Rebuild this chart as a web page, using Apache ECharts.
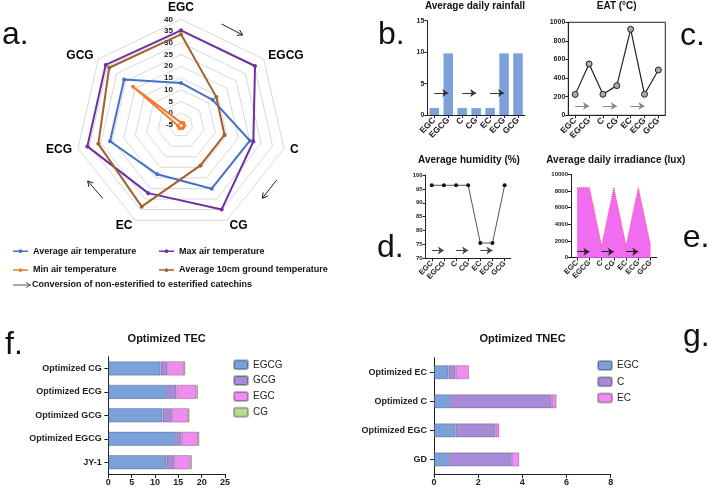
<!DOCTYPE html>
<html><head><meta charset="utf-8">
<script src="https://cdn.jsdelivr.net/npm/echarts@6/dist/echarts.min.js"></script>
<style>html,body{margin:0;padding:0;background:#fff}#c{width:708px;height:491px}</style>
</head><body><div id="c"></div>
<script>
// ---------- data ----------
const radarAxes = ['EGC', 'EGCG', 'C', 'CG', 'EC', 'ECG', 'GCG']; // clockwise from top
const avgAirTemp = [12.9, 12.2, 25.1, 25.1, 18.3, 26.0, 26.0];
const maxAirTemp = [35.3, 35.3, 26.6, 34.9, 27.2, 35.9, 36.0];
const minAirTemp = [-4.0, -3.7, -3.5, -3.5, -3.5, -3.7, 21.1];
const groundTemp = [33.6, 14.2, 14.0, 14.1, 33.6, 31.1, 34.1];
const radarNames = ['Average air temperature', 'Max air temperature', 'Min air temperature', 'Average 10cm ground temperature'];

const stageCats = ['EGC', 'EGCG', 'C', 'CG', 'EC', 'ECG', 'GCG'];
const rainfall = [1.1, 9.8, 1.1, 1.1, 1.1, 9.8, 9.8];
const eat = [225, 552, 226, 319, 925, 226, 487];
const humidity = [96.3, 96.3, 96.3, 96.3, 75.5, 75.5, 96.3];
const irradiance = [8400, 8400, 1400, 8400, 1400, 8400, 1400];

const tecCats = ['Optimized CG', 'Optimized ECG', 'Optimized GCG', 'Optimized EGCG', 'JY-1'];
const tecEGCG = [11.2, 12.6, 11.6, 14.5, 12.5];
const tecGCG = [1.4, 2.0, 2.0, 1.2, 1.6];
const tecEGC = [3.6, 4.3, 3.5, 3.5, 3.5];
const tecCG = [0.3, 0.3, 0.3, 0.3, 0.3];

const tnecCats = ['Optimized EC', 'Optimized C', 'Optimized EGC', 'GD'];
const tnecEGC = [0.65, 0.72, 0.98, 0.69];
const tnecC = [0.33, 4.61, 1.81, 2.83];
const tnecEC = [0.6, 0.22, 0.17, 0.34];

// ---------- styles ----------
const FF = 'Liberation Sans, Arial, sans-serif';
const BLUE = '#4472C4', PURPLE = '#7030A0', ORANGE = '#ED7D31', BROWN = '#A0602F';
const barBlue = '#7BA0DA', barPurple = '#A88BD8', barPink = '#F08CF0', barGreen = '#B8DC8C';

// radar is counter-clockwise in ECharts; reorder to get clockwise
const order = [0, 6, 5, 4, 3, 2, 1];
const ro = arr => order.map(i => arr[i]);

const chart = echarts.init(document.getElementById('c'), null, {renderer: 'canvas'});

function arrow(x1, y1, x2, y2, color, head) {
  const dx = x2 - x1, dy = y2 - y1, L = Math.hypot(dx, dy), ux = dx / L, uy = dy / L;
  const h = head || 6, a = Math.PI / 6;
  const p1 = [x2 - h * (ux * Math.cos(a) - uy * Math.sin(a)), y2 - h * (uy * Math.cos(a) + ux * Math.sin(a))];
  const p2 = [x2 - h * (ux * Math.cos(a) + uy * Math.sin(a)), y2 - h * (uy * Math.cos(a) - ux * Math.sin(a))];
  return [
    {type: 'line', shape: {x1, y1, x2, y2}, style: {stroke: color, lineWidth: 1}, silent: true},
    {type: 'polyline', shape: {points: [p1, [x2, y2], p2]}, style: {stroke: color, lineWidth: 1, fill: null}, silent: true}
  ];
}
function txt(x, y, text, size, weight, align) {
  return {type: 'text', x, y, silent: true,
    style: {text, fontSize: size, fontWeight: weight || 'normal', fontFamily: FF, fill: '#111',
      textAlign: align || 'left', textVerticalAlign: 'middle'}};
}

const plain = v => String(v);
const axisLineBlack = {show: true, lineStyle: {color: '#222', width: 1}};
const tickBlack = {show: true, length: 3, lineStyle: {color: '#222'}};
const smallLbl = (fs, m) => ({color: '#222', fontSize: fs, fontWeight: 'bold', fontFamily: FF, margin: m || 3, formatter: plain});
const catLbl = (fs, m) => ({color: '#222', fontSize: fs, fontWeight: 'bold', fontFamily: FF, margin: m || 3});
const rotLbl = (fs) => ({color: '#222', fontSize: fs, fontWeight: 'bold', fontFamily: FF, rotate: 45, interval: 0, margin: 4});

function arrowMarks(yv, color) {
  return {
    silent: true, symbol: ['none', 'arrow'], symbolSize: 6,
    label: {show: false}, emphasis: {disabled: true},
    lineStyle: {color, type: 'solid', width: 1},
    data: [
      [{coord: [0, yv]}, {coord: [1, yv]}],
      [{coord: [2, yv]}, {coord: [3, yv]}],
      [{coord: [4, yv]}, {coord: [5, yv]}]
    ]
  };
}

const legendIcon = 'path://M0,4 L20,4 L20,6 L0,6 Z M12.5,5 A2.5,2.5 0 1 1 7.5,5 A2.5,2.5 0 1 1 12.5,5 Z';
const radarColors = [BLUE, PURPLE, ORANGE, BROWN];
const radarVals = [avgAirTemp, maxAirTemp, minAirTemp, groundTemp];
const legendPos = [[8, 241.7], [154, 241.7], [8, 260.5], [154, 260.5]];

const option = {
  animation: false,
  backgroundColor: '#fff',
  textStyle: {fontFamily: FF},
  radar: {
    center: [181, 125], radius: 105.7, startAngle: 90, shape: 'polygon', splitNumber: 9,
    indicator: order.map((i, k) => ({
      name: radarAxes[i], min: -5, max: 40,
      axisLabel: k === 0 ? {show: true, color: '#222', fontSize: 8, fontWeight: 'bold', fontFamily: FF, margin: 0, align: 'right', padding: [0, 8, 0, 0], showMinLabel: true, showMaxLabel: true} : {show: false}
    })),
    axisName: {color: '#000', fontWeight: 'bold', fontSize: 12, fontFamily: FF},
    nameGap: 6,
    splitLine: {lineStyle: {color: '#d9d9d9', width: 1}},
    splitArea: {show: false},
    axisLine: {show: false},
    axisTick: {show: false},
    axisLabel: {show: false}
  },
  legend: radarNames.map((n, i) => ({
    data: [n], left: legendPos[i][0], top: legendPos[i][1], orient: 'horizontal',
    icon: legendIcon, itemWidth: 15, itemHeight: 5, selectedMode: false,
    textStyle: {fontSize: 9, fontWeight: 'bold', fontFamily: FF, color: '#111'}
  })).concat([
    {data: ['TEC EGCG', 'TEC GCG', 'TEC EGC', 'TEC CG'], orient: 'vertical', left: 228, top: 354.3,
      itemWidth: 14, itemHeight: 9, itemGap: 4.8, selectedMode: false, formatter: n => n.replace('TEC ', ''),
      textStyle: {fontSize: 10, fontFamily: FF, color: '#222'}},
    {data: ['TNEC EGC', 'TNEC C', 'TNEC EC'], orient: 'vertical', left: 592, top: 355,
      itemWidth: 14, itemHeight: 9, itemGap: 5.3, selectedMode: false, formatter: n => n.replace('TNEC ', ''),
      textStyle: {fontSize: 10, fontFamily: FF, color: '#222'}}
  ]),
  grid: [
    {left: 427.3, top: 20.7, width: 97.7, height: 94.3},              // b
    {left: 568.3, top: 22.3, width: 97, height: 93, show: true, borderColor: '#222', borderWidth: 1, backgroundColor: 'transparent'}, // c
    {left: 425.7, top: 175, width: 85, height: 83.3},                 // d
    {left: 571, top: 174.3, width: 85.7, height: 83.4},               // e
    {left: 108.3, top: 356.7, width: 116.7, height: 117.3},           // f
    {left: 434, top: 357.7, width: 176.7, height: 116.3}              // g
  ],
  xAxis: [
    {gridIndex: 0, type: 'category', data: stageCats, axisLine: axisLineBlack, axisTick: Object.assign({alignWithLabel: true}, tickBlack), axisLabel: rotLbl(8.5)},
    {gridIndex: 1, type: 'category', data: stageCats, axisLine: axisLineBlack, axisTick: Object.assign({alignWithLabel: true}, tickBlack), axisLabel: rotLbl(8.5)},
    {gridIndex: 2, type: 'category', data: stageCats, axisLine: axisLineBlack, axisTick: Object.assign({alignWithLabel: true}, tickBlack), axisLabel: rotLbl(7.5)},
    {gridIndex: 3, type: 'category', data: stageCats, axisLine: axisLineBlack, axisTick: Object.assign({alignWithLabel: true}, tickBlack), axisLabel: rotLbl(7.5)},
    {gridIndex: 4, type: 'value', min: 0, max: 25, interval: 5, splitLine: {show: false}, axisLine: axisLineBlack, axisTick: {show: true, length: 4, lineStyle: {color: '#222'}}, axisLabel: smallLbl(9, 4)},
    {gridIndex: 5, type: 'value', min: 0, max: 8, interval: 2, splitLine: {show: false}, axisLine: axisLineBlack, axisTick: {show: true, length: 4, lineStyle: {color: '#222'}}, axisLabel: smallLbl(9, 4)}
  ],
  yAxis: [
    {gridIndex: 0, type: 'value', min: 0, max: 15, interval: 5, splitLine: {show: false}, axisLine: axisLineBlack, axisTick: tickBlack, axisLabel: smallLbl(7)},
    {gridIndex: 1, type: 'value', min: 0, max: 1000, interval: 200, splitLine: {show: false}, axisLine: axisLineBlack, axisTick: tickBlack, axisLabel: smallLbl(7)},
    {gridIndex: 2, type: 'value', min: 70, max: 100, interval: 5, splitLine: {show: false}, axisLine: axisLineBlack, axisTick: tickBlack, axisLabel: smallLbl(6)},
    {gridIndex: 3, type: 'value', min: 0, max: 10000, interval: 2000, splitLine: {show: false}, axisLine: axisLineBlack, axisTick: tickBlack, axisLabel: smallLbl(6)},
    {gridIndex: 4, type: 'category', data: tecCats, inverse: true, axisLine: axisLineBlack, axisTick: {show: true, length: 4, alignWithLabel: true, lineStyle: {color: '#222'}}, axisLabel: catLbl(9, 6.5)},
    {gridIndex: 5, type: 'category', data: tnecCats, inverse: true, axisLine: axisLineBlack, axisTick: {show: true, length: 4, alignWithLabel: true, lineStyle: {color: '#222'}}, axisLabel: catLbl(9, 7)}
  ],
  series: [
    ...radarNames.map((n, i) => ({
      type: 'radar', name: n, symbol: 'circle', symbolSize: 4,
      itemStyle: {color: radarColors[i]}, lineStyle: {color: radarColors[i], width: 2},
      data: [{name: n, value: ro(radarVals[i])}]
    })),
    {type: 'bar', xAxisIndex: 0, yAxisIndex: 0, data: rainfall, barWidth: 9.5, itemStyle: {color: barBlue}, markLine: arrowMarks(3.5, '#333')},
    {type: 'line', xAxisIndex: 1, yAxisIndex: 1, data: eat, symbol: 'circle', symbolSize: 6,
      itemStyle: {color: '#aaa', borderColor: '#222', borderWidth: 1}, lineStyle: {color: '#222', width: 1.2}, markLine: arrowMarks(100, '#888')},
    {type: 'line', xAxisIndex: 2, yAxisIndex: 2, data: humidity, symbol: 'circle', symbolSize: 4,
      itemStyle: {color: '#111'}, lineStyle: {color: '#555', width: 1}, markLine: arrowMarks(72.8, '#444')},
    {type: 'line', xAxisIndex: 3, yAxisIndex: 3, data: irradiance, symbol: 'none',
      lineStyle: {color: '#ff4a6a', width: 1, type: 'dotted'}, areaStyle: {color: '#F26CF2', opacity: 1}, markLine: arrowMarks(720, '#222')},
    ...[['TEC EGCG', tecEGCG, barBlue], ['TEC GCG', tecGCG, barPurple], ['TEC EGC', tecEGC, barPink], ['TEC CG', tecCG, barGreen]].map(s => ({
      type: 'bar', name: s[0], stack: 'tec', xAxisIndex: 4, yAxisIndex: 4, data: s[1], barWidth: 14.3,
      itemStyle: {color: s[2], borderColor: 'rgba(0,0,0,0.28)', borderWidth: 0.8}
    })),
    ...[['TNEC EGC', tnecEGC, barBlue], ['TNEC C', tnecC, barPurple], ['TNEC EC', tnecEC, barPink]].map(s => ({
      type: 'bar', name: s[0], stack: 'tnec', xAxisIndex: 5, yAxisIndex: 5, data: s[1], barWidth: 14,
      itemStyle: {color: s[2], borderColor: 'rgba(0,0,0,0.28)', borderWidth: 0.8}
    }))
  ],
  graphic: [
    txt(2, 35, 'a.', 32), txt(378, 35, 'b.', 32), txt(680, 36.5, 'c.', 32), txt(377, 248, 'd.', 32),
    txt(682.7, 238, 'e.', 32), txt(5, 345, 'f.', 32), txt(683, 337, 'g.', 32),
    txt(475, 6, 'Average daily rainfall', 10, 'bold', 'center'),
    txt(616.7, 6, 'EAT (°C)', 10, 'bold', 'center'),
    txt(469, 160.3, 'Average humidity (%)', 10, 'bold', 'center'),
    txt(615.8, 160.3, 'Average daily irradiance (lux)', 10, 'bold', 'center'),
    txt(166.7, 338.5, 'Optimized TEC', 11, 'bold', 'center'),
    txt(522.5, 338.5, 'Optimized TNEC', 11, 'bold', 'center'),
    ...arrow(221.7, 24, 242.7, 35, '#222'),
    ...arrow(276.7, 180, 262.3, 198.3, '#222'),
    ...arrow(102.7, 198.3, 87.7, 181, '#222'),
    ...arrow(13, 285, 30.5, 285, '#555', 5),
    txt(32, 285, 'Conversion of non-esterified to esterified catechins', 9, 'bold')
  ]
};
chart.setOption(option);
</script></body></html>
